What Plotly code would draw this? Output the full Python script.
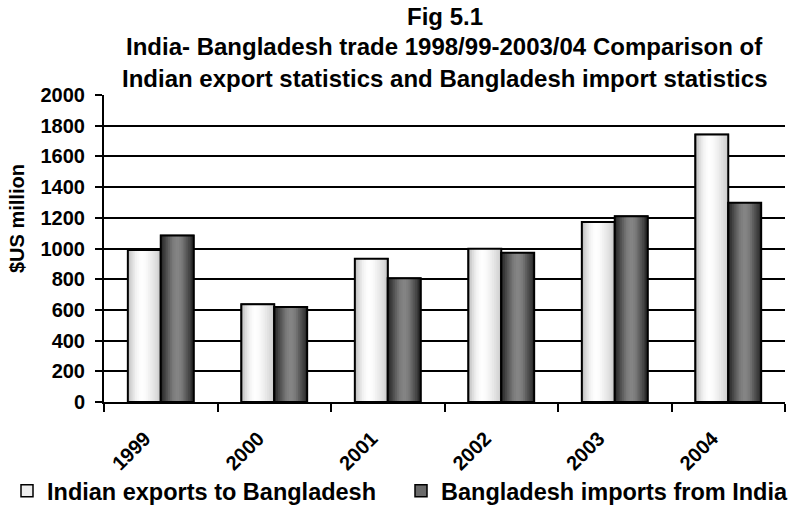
import plotly.graph_objects as go

# ---- data ----
categories = ["1999", "2000", "2001", "2002", "2003", "2004"]
indian_exports = [990, 637, 933, 999, 1173, 1743]
bangladesh_imports = [1084, 619, 807, 973, 1210, 1298]
series_names = ["Indian exports to Bangladesh", "Bangladesh imports from India"]
y_ticks = [0, 200, 400, 600, 800, 1000, 1200, 1400, 1600, 1800, 2000]
y_title = "$US million"
title_lines = [
    "Fig 5.1",
    "India- Bangladesh trade 1998/99-2003/04 Comparison of",
    "Indian export statistics and Bangladesh import statistics",
]

# ---- style ----
FONT = "Liberation Sans, Arial, sans-serif"
BAR_W = 0.29
N_LAYERS = 18
LABEL_SHIFT = -0.14   # tick-label shift (category units) like the reference
white_profile = [(0.0, 185), (0.12, 218), (0.25, 242), (0.4, 255), (0.55, 250), (0.75, 232), (1.0, 205)]
dark_profile = [(0.0, 35), (0.15, 72), (0.35, 120), (0.5, 135), (0.65, 120), (0.85, 72), (1.0, 40)]
W, H = 794, 506
M_L, M_R, M_T, M_B = 104, 9, 95, 104
PLOT_W = W - M_L - M_R
PLOT_H = H - M_T - M_B


def px_x(x):
    return (x - M_L) / PLOT_W


def px_y(y):
    return (H - M_B - y) / PLOT_H


def interp(profile, t):
    for (t0, v0), (t1, v1) in zip(profile[:-1], profile[1:]):
        if t0 <= t <= t1:
            return v0 + (v1 - v0) * (t - t0) / (t1 - t0)
    return profile[-1][1]


fig = go.Figure()


def add_series(values, name, start_offset, legend_color, profile):
    # base bar (legend entry)
    fig.add_trace(go.Bar(
        x=categories, y=values, name=name, offset=start_offset, width=BAR_W,
        marker=dict(color=legend_color, line=dict(color="black", width=1.5)),
        showlegend=True, hoverinfo="skip"))
    # gradient layers
    for k in range(N_LAYERS):
        t0 = k / N_LAYERS
        tc = (k + 0.5) / N_LAYERS
        g = int(round(interp(profile, tc)))
        fig.add_trace(go.Bar(
            x=categories, y=values, offset=start_offset + t0 * BAR_W, width=BAR_W * (1 - t0),
            marker=dict(color=f"rgb({g},{g},{g})", line=dict(width=0)),
            showlegend=False, hoverinfo="skip"))
    # outline on top
    fig.add_trace(go.Bar(
        x=categories, y=values, offset=start_offset, width=BAR_W,
        marker=dict(color="rgba(0,0,0,0)", line=dict(color="black", width=2)),
        showlegend=False, hovertemplate=name + ": %{y}<extra></extra>"))


add_series(indian_exports, series_names[0], -BAR_W, "#eeeeee", white_profile)
add_series(bangladesh_imports, series_names[1], 0.0, "#6a6a6a", dark_profile)

# invisible helper trace so the label-only axis x2 is drawn
fig.add_trace(go.Scatter(
    x=[i + LABEL_SHIFT for i in range(len(categories))], y=[0] * len(categories),
    xaxis="x2", yaxis="y", mode="markers", marker=dict(opacity=0, size=1),
    showlegend=False, hoverinfo="skip"))

# title lines as annotations (centres at given pixel heights)
for line, ypx in zip(title_lines, [16, 47, 78]):
    fig.add_annotation(
        text=line, xref="paper", yref="paper", x=0.5, y=px_y(ypx),
        xanchor="center", yanchor="middle", showarrow=False,
        font=dict(family=FONT, size=24, color="black", weight="bold"))

# y-axis title (placed above the axis centre, as in the reference)
fig.add_annotation(
    text=y_title, xref="paper", yref="paper", x=px_x(17), y=px_y(219),
    xanchor="center", yanchor="middle", textangle=-90, showarrow=False,
    font=dict(family=FONT, size=20, color="black", weight="bold"))

tick_font = dict(family=FONT, size=20, color="black", weight="bold")

fig.update_layout(
    width=W, height=H,
    barmode="overlay",
    paper_bgcolor="white", plot_bgcolor="white",
    margin=dict(l=M_L, r=M_R, t=M_T, b=M_B, autoexpand=False),
    font=dict(family=FONT, color="black", weight="bold"),
    xaxis=dict(
        type="category", categoryorder="array", categoryarray=categories,
        range=[-0.5, len(categories) - 0.5], automargin=False,
        showline=True, linecolor="black", linewidth=2,
        ticks="outside", tickson="boundaries", ticklen=8, tickwidth=2, tickcolor="black",
        showticklabels=False,
        showgrid=False, zeroline=False,
    ),
    # label-only axis so the rotated year labels sit where the reference has them
    xaxis2=dict(
        overlaying="x", anchor="y", side="bottom", type="linear",
        range=[-0.5, len(categories) - 0.5], automargin=False,
        tickvals=[i + LABEL_SHIFT for i in range(len(categories))], ticktext=categories,
        tickangle=-45, tickfont=tick_font,
        ticks="outside", ticklen=8, tickcolor="rgba(0,0,0,0)", ticklabelstandoff=8,
        showline=False, showgrid=False, zeroline=False,
    ),
    yaxis=dict(
        range=[0, 2000], tickvals=y_ticks, automargin=False,
        showgrid=True, gridcolor="black", gridwidth=1.5,
        showline=True, linecolor="black", linewidth=2,
        ticks="outside", ticklen=7, tickwidth=2, tickcolor="black",
        ticklabelstandoff=6,
        tickfont=tick_font,
        zeroline=False,
    ),
    legend=dict(
        orientation="h", xref="paper", yref="paper",
        x=px_x(7), xanchor="left",
        y=px_y(491), yanchor="middle",
        font=dict(family=FONT, size=23.5, color="black", weight="bold"),
        bgcolor="rgba(0,0,0,0)", entrywidth=349, entrywidthmode="pixels",
    ),
    showlegend=True,
)

fig.write_html("out.html", config={"displayModeBar": False},
               post_script="document.body.style.margin='0';")
